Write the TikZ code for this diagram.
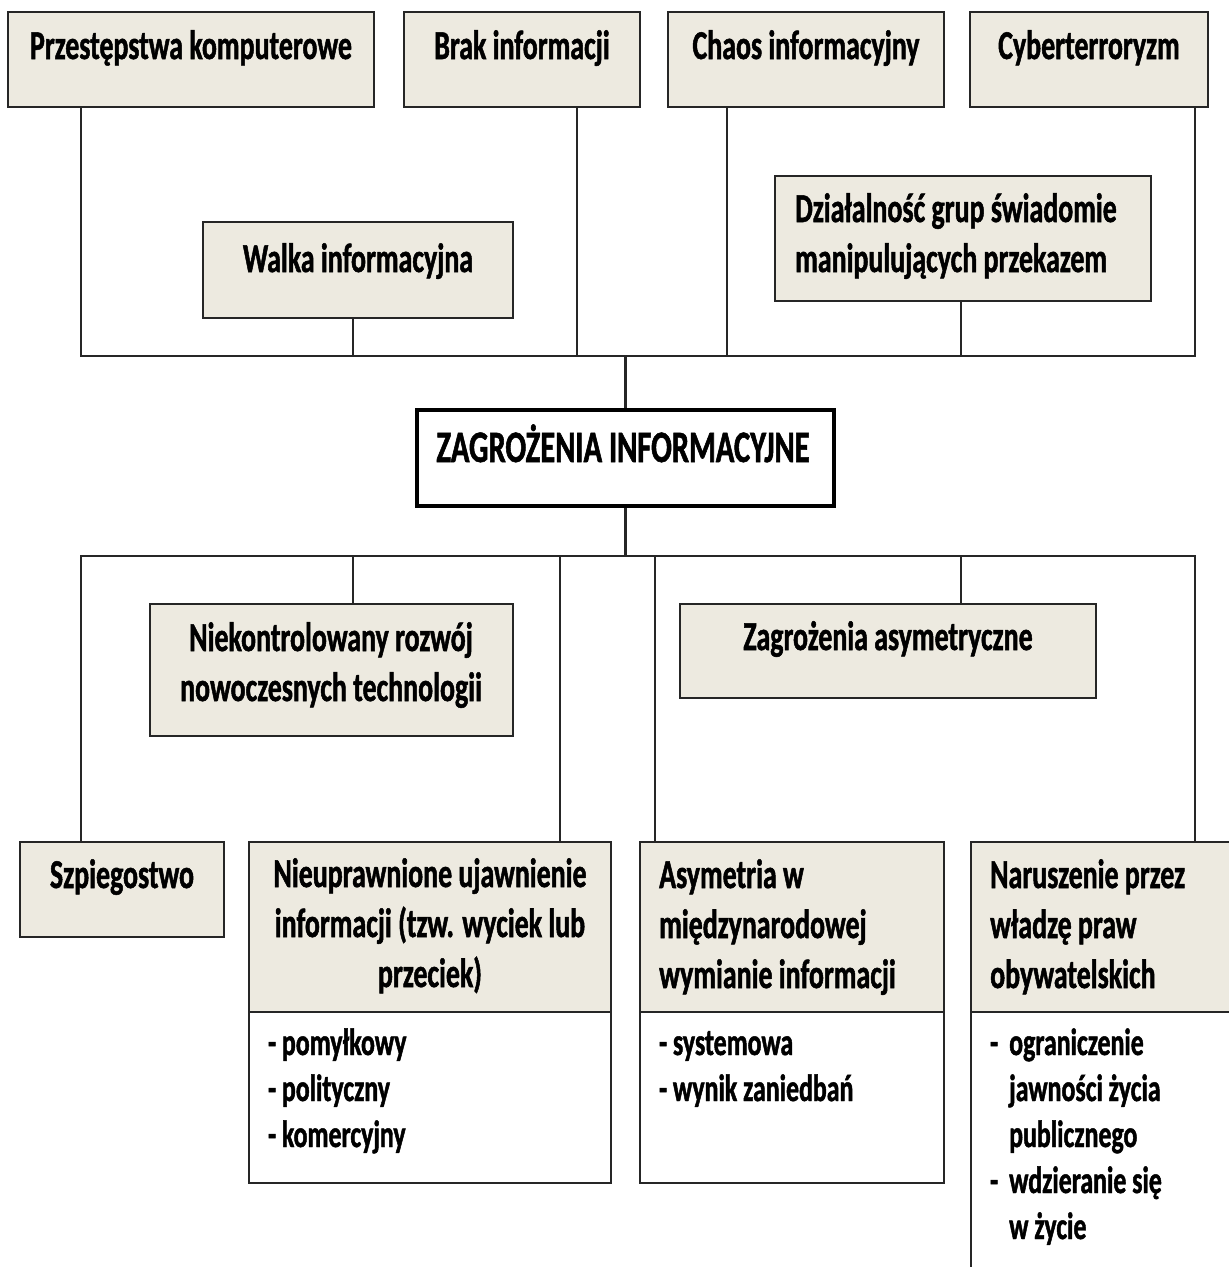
\documentclass[tikz,border=0pt]{standalone}
\usepackage{fontspec}
\newfontfamily\labfont{Carlito}[FakeStretch=0.68, FakeBold=1.2]
\usetikzlibrary{fit}
\definecolor{beige}{RGB}{237,234,224}
\definecolor{ink}{RGB}{38,38,38}

\begin{document}
\begin{tikzpicture}[x=1pt,y=-1pt,
  box/.style={draw=ink, line width=2.4pt, fill=beige, inner sep=0pt},
  plainbox/.style={draw=ink, line width=2.4pt, fill=white, inner sep=0pt},
  corebox/.style={draw=black, line width=3.8pt, fill=white, inner sep=0pt},
  conn/.style={draw=ink, line width=2.1pt},
  lbl/.style={font=\labfont\bfseries\fontsize{41}{50}\selectfont, inner sep=0pt, anchor=base},
  lst/.style={font=\labfont\bfseries\fontsize{38}{46}\selectfont, inner sep=0pt, anchor=base west, align=left}]
\useasboundingbox (0,0) rectangle (1229,1267);
\begin{scope}
\clip (0,0) rectangle (1229,1267);

% reference columns and bus levels
\coordinate (xa) at (81,0);
\coordinate (xb) at (353,0);
\coordinate (xc) at (577,0);
\coordinate (xd) at (727,0);
\coordinate (xe) at (961,0);
\coordinate (xf) at (1195,0);
\coordinate (xg) at (560,0);
\coordinate (xh) at (655,0);
\coordinate (topbus) at (0,356);
\coordinate (lowbus) at (0,556);

% upper group of boxes
\node[box, fit={(8,12) (374,107)}] (b1) {};
\node[box, fit={(404,12) (640,107)}] (b2) {};
\node[box, fit={(668,12) (944,107)}] (b3) {};
\node[box, fit={(970,12) (1208,107)}] (b4) {};
\node[box, fit={(203,222) (513,318)}] (b5) {};
\node[box, fit={(775,176) (1151,301)}] (b6) {};

% central box
\node[corebox, fit={(417,410) (834,506)}] (core) {};

% lower group of boxes
\node[box, fit={(150,604) (513,736)}] (c1) {};
\node[box, fit={(680,604) (1096,698)}] (c2) {};
\node[box, fit={(20,842) (224,937)}] (c3) {};
\node[box, fit={(249,842) (611,1012)}] (c4) {};
\node[plainbox, fit={(249,1012) (611,1183)}] (c4l) {};
\node[box, fit={(640,842) (944,1012)}] (c5) {};
\node[plainbox, fit={(640,1012) (944,1183)}] (c5l) {};
\node[box, fit={(971,842) (1245,1012)}] (c6) {};
\node[plainbox, fit={(971,1012) (1245,1290)}] (c6l) {};

% upper connectors
\draw[conn] (b1.south -| xa) -- (xa |- topbus) -- (xf |- topbus) -- (b4.south -| xf);
\draw[conn] (b2.south -| xc) -- (xc |- topbus);
\draw[conn] (b3.south -| xd) -- (xd |- topbus);
\draw[conn] (b5.south -| xb) -- (xb |- topbus);
\draw[conn] (b6.south -| xe) -- (xe |- topbus);
\draw[conn] (core.north) -- (core.north |- topbus);

% lower connectors
\draw[conn] (core.south) -- (core.south |- lowbus);
\draw[conn] (c3.north -| xa) -- (xa |- lowbus) -- (xf |- lowbus) -- (c6.north -| xf);
\draw[conn] (c1.north -| xb) -- (xb |- lowbus);
\draw[conn] (c4.north -| xg) -- (xg |- lowbus);
\draw[conn] (c5.north -| xh) -- (xh |- lowbus);
\draw[conn] (c2.north -| xe) -- (xe |- lowbus);

% labels (multi-line nodes are anchored at the baseline of their last line)
\node[lbl] (t1) at (191,59) {Przestępstwa komputerowe};
\node[lbl] (t2) at (522,59) {Brak informacji};
\node[lbl] (t3) at (806,59) {Chaos informacyjny};
\node[lbl] (t4) at (1089,59) {Cyberterroryzm};
\node[lbl] (t5) at (358,272) {Walka informacyjna};
\node[lbl, anchor=base west, align=left] (t6) at (795,272) {Działalność grup świadomie\\manipulujących przekazem};
\node[lbl, font=\labfont\bfseries\fontsize{45}{50}\selectfont] (t0) at (623,462) {ZAGROŻENIA INFORMACYJNE};
\node[lbl, align=center] (u1) at (331,701) {Niekontrolowany rozwój\\nowoczesnych technologii};
\node[lbl] (u2) at (888,650) {Zagrożenia asymetryczne};
\node[lbl] (u3) at (122,888) {Szpiegostwo};
\node[lbl, align=center] (u4) at (430,987) {Nieuprawnione ujawnienie\\informacji (tzw. wyciek lub\\przeciek)};
\node[lbl, anchor=base west, align=left] (u5) at (659,988) {Asymetria w\\międzynarodowej\\wymianie informacji};
\node[lbl, anchor=base west, align=left] (u6) at (990,988) {Naruszenie przez\\władzę praw\\obywatelskich};

% lists
\node[lst] (l4) at (268,1147) {- pomyłkowy\\- polityczny\\- komercyjny};
\node[lst] (l5) at (659,1101) {- systemowa\\- wynik zaniedbań};
\node[lst] (l6) at (990,1239) {\makebox[19pt][l]{-}ograniczenie\\\hspace*{19pt}jawności życia\\\hspace*{19pt}publicznego\\\makebox[19pt][l]{-}wdzieranie się\\\hspace*{19pt}w życie};
\end{scope}
\end{tikzpicture}
\end{document}
